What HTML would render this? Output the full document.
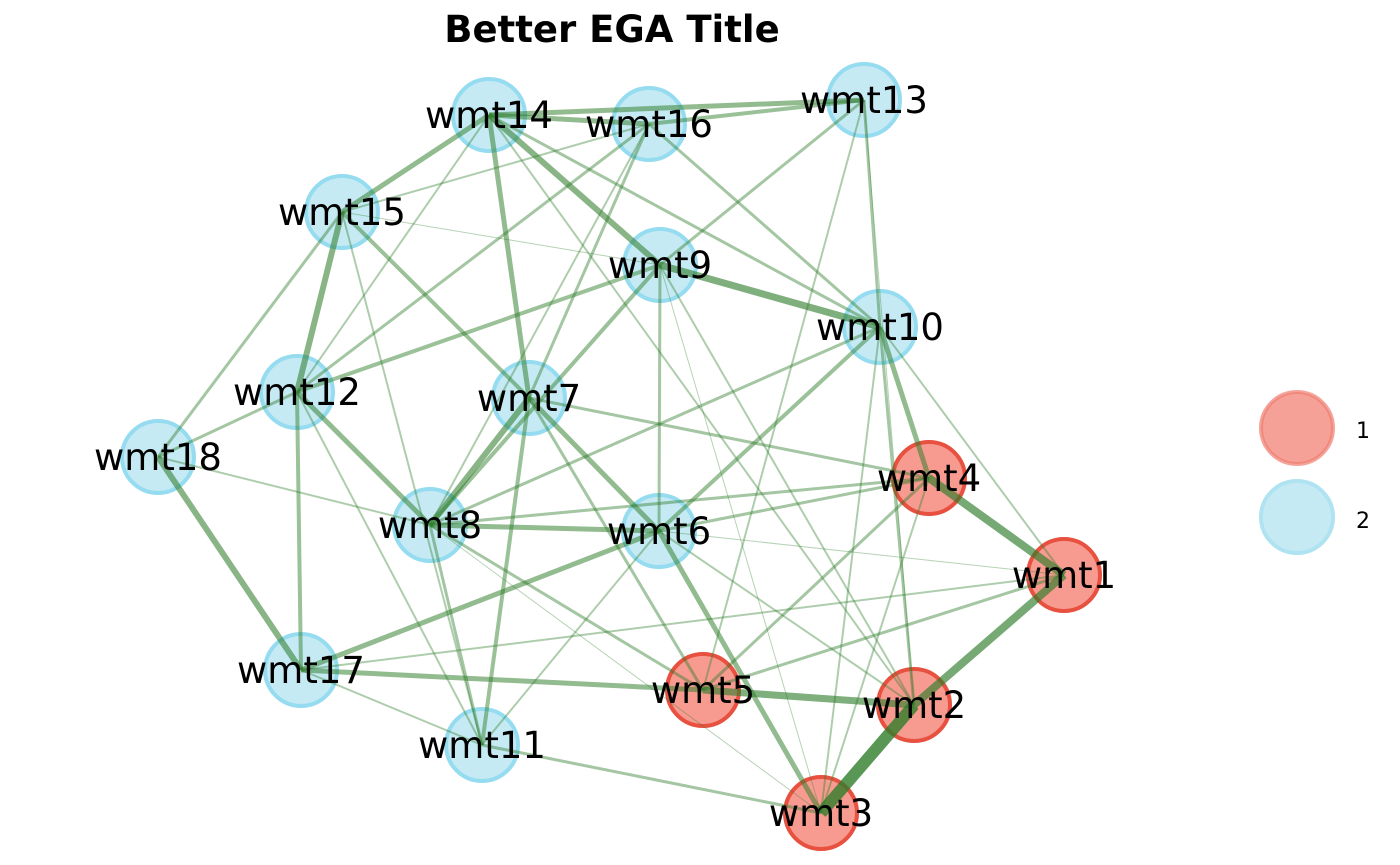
<!DOCTYPE html>
<html><head><meta charset="utf-8"><style>
html,body{margin:0;padding:0;background:#fff;}
svg{display:block;font-family:"DejaVu Sans","Liberation Sans",sans-serif;}
</style></head><body>
<svg id="chart" width="1400" height="865" viewBox="0 0 1400 865">
<text x="612" y="42" text-anchor="middle" font-size="37" font-weight="bold">Better EGA Title</text>
<g id="nodes"></g>
<g id="edges"></g>
<g id="labels"></g>
<g id="legend">
<g>
<circle cx="1297" cy="428" r="36" fill="#f4978d" fill-opacity="0.9" stroke="#ef7d71" stroke-opacity="0.7" stroke-width="4"/>
<text x="1356" y="438" font-size="22">1</text></g>
<g>
<circle cx="1297" cy="517" r="36" fill="#c6eaf4" stroke="#b0e3f2" stroke-width="4"/>
<text x="1356" y="528" font-size="22">2</text></g>
</g>
</svg>
<script>
const nodeNames=["wmt1","wmt2","wmt3","wmt4","wmt5","wmt6","wmt7","wmt8","wmt9","wmt10","wmt11","wmt12","wmt13","wmt14","wmt15","wmt16","wmt17","wmt18"];
const nodeX=[1064,914,821,929,703,659,529,430,660,880,482,297,864,489,342,649,301,158];
const nodeY=[575,705,813,478,690,531,398,525,265,327,745,392,100,115,212,124,670,457];
const nodeGroup=[1,1,1,1,1,2,2,2,2,2,2,2,2,2,2,2,2,2];
const edgeFrom=["wmt1","wmt2","wmt4","wmt5","wmt6","wmt10","wmt9","wmt14","wmt14","wmt14","wmt16","wmt14","wmt15","wmt14","wmt15","wmt7","wmt9","wmt12","wmt18","wmt8","wmt7","wmt17","wmt17","wmt11","wmt7","wmt12","wmt12","wmt15","wmt18","wmt10","wmt10","wmt9","wmt16","wmt13","wmt16","wmt14","wmt13","wmt4","wmt4","wmt4","wmt1","wmt1","wmt4","wmt4","wmt10","wmt10","wmt13","wmt9","wmt15","wmt8","wmt8","wmt6","wmt16","wmt16","wmt17","wmt18","wmt12","wmt7","wmt14","wmt6","wmt9","wmt13","wmt10","wmt15","wmt16","wmt8","wmt1","wmt14"];
const edgeTo=["wmt2","wmt3","wmt1","wmt2","wmt3","wmt4","wmt10","wmt9","wmt16","wmt13","wmt13","wmt15","wmt12","wmt7","wmt7","wmt8","wmt8","wmt8","wmt17","wmt6","wmt6","wmt5","wmt6","wmt3","wmt11","wmt17","wmt9","wmt18","wmt12","wmt6","wmt8","wmt6","wmt7","wmt10","wmt10","wmt10","wmt9","wmt8","wmt6","wmt7","wmt5","wmt17","wmt5","wmt3","wmt2","wmt3","wmt5","wmt2","wmt11","wmt5","wmt11","wmt11","wmt12","wmt15","wmt11","wmt8","wmt11","wmt5","wmt2","wmt2","wmt3","wmt2","wmt1","wmt9","wmt8","wmt3","wmt6","wmt12"];
const edgeWeight=[8,12,8,7,5,5,7,6,5,5,4,5,6,5,4,6,4,5,6,5,5,5,5,3,4,4,4,3,3,4,3,3,3,3,3,3,3,3,3,3,3,2,3,2,3,2,2,2,2,3,3,2,3,2,2,2,2,3,2,2,1,1,2,1,2,1,1,2];
const NS="http://www.w3.org/2000/svg";
const idx=n=>nodeNames.indexOf(n);
const ng=document.getElementById("nodes");
const lg=document.getElementById("labels");
for(let i=0;i<nodeNames.length;i++){
 const c=document.createElementNS(NS,"circle");
 c.setAttribute("cx",nodeX[i]);c.setAttribute("cy",nodeY[i]);c.setAttribute("r",36);
 if(nodeGroup[i]===1){c.setAttribute("fill","#f79b91");c.setAttribute("stroke","#e8503f");}
 else{c.setAttribute("fill","#c6eaf4");c.setAttribute("stroke","#95dcf0");}
 c.setAttribute("stroke-width",4);
 
 
 ng.appendChild(c);
 const t=document.createElementNS(NS,"text");
 t.setAttribute("x",nodeX[i]);t.setAttribute("y",nodeY[i]+13);
 t.setAttribute("text-anchor","middle");t.setAttribute("font-size","37");
 t.textContent=nodeNames[i];
 
 
 lg.appendChild(t);
}
const eg=document.getElementById("edges");
for(let i=0;i<edgeFrom.length;i++){
 const a=idx(edgeFrom[i]),b=idx(edgeTo[i]),w=edgeWeight[i];
 const l=document.createElementNS(NS,"line");
 l.setAttribute("x1",nodeX[a]);l.setAttribute("y1",nodeY[a]);
 l.setAttribute("x2",nodeX[b]);l.setAttribute("y2",nodeY[b]);
 l.setAttribute("stroke","#2f7d2a");
 l.setAttribute("stroke-opacity",Math.min(0.8,0.3+w*0.045));
 l.setAttribute("stroke-width",w);
 
 
 eg.appendChild(l);
}
</script>
</body></html>
